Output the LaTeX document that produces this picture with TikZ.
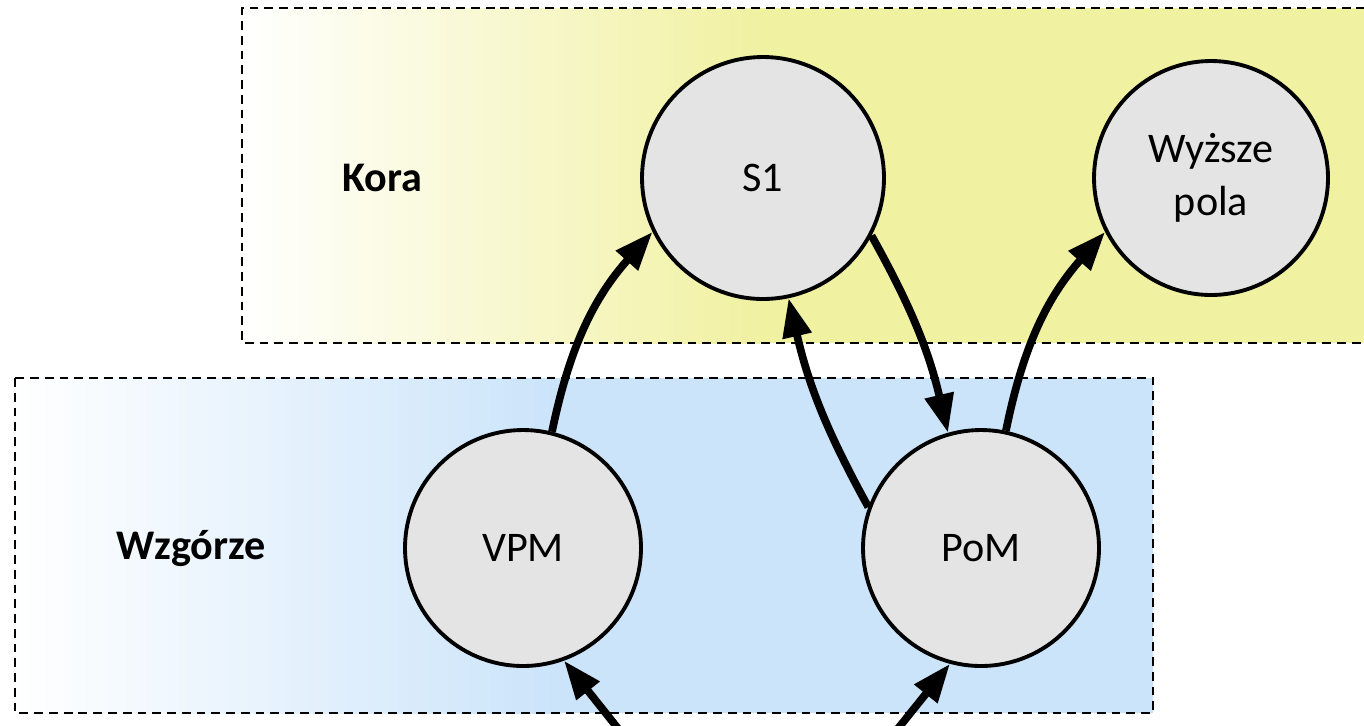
\documentclass[tikz,border=0pt]{standalone}
\usepackage{fontspec}
\setmainfont{Carlito}
\usetikzlibrary{arrows.meta}
\definecolor{korafill}{RGB}{241,241,162}
\definecolor{wzgfill}{RGB}{203,228,250}
\definecolor{cellfill}{RGB}{228,228,228}
\tikzset{
	zone/.style={draw,line width=1.1pt,dash pattern=on 5pt off 3.4pt},
	cell/.style={draw,circle,fill=cellfill,line width=2.2pt,inner sep=0pt,align=center,minimum size=4.72cm},
	lbl/.style={font=\fontsize{24}{28}\selectfont\bfseries},
	tract/.style={-{Triangle[length=22pt,width=16pt]},line width=4.4pt}
}
\begin{document}
\begin{tikzpicture}[x=0.02cm,y=-0.02cm,font=\fontsize{24}{28}\selectfont]
            \useasboundingbox (0,0) rectangle (1364,725);
            \clip (0,0) rectangle (1364,725);
            % Kora
            \shade[left color=white,right color=korafill] (242,8) rectangle (760,343);
            \fill[korafill] (759,8) rectangle (1380,343);
            \draw[zone] (1380,8) -- (242,8) -- (242,343) -- (1380,343);
            % Wzgorze
            \shade[left color=white,right color=wzgfill] (15,378) rectangle (560,713);
            \fill[wzgfill] (559,378) rectangle (1153,713);
            \draw[zone] (15,378) rectangle (1153,713);
            \node[lbl] (kora) at (382,178) {Kora};
            \node[lbl] (wzg) at (191,548) {Wzgórze};
            \node[cell,minimum size=4.84cm] (s1) at (763,178) {S1};
            \node[cell,minimum size=4.68cm,font=\fontsize{24}{30}\selectfont] (wp) at (1211,178) {Wyższe\\pola};
            \node[cell] (vpm) at (523,548) {VPM};
            \node[cell] (pom) at (981,548) {PoM};
            \coordinate (lo1) at (655,775);
            \coordinate (lo2) at (855,782);
            \draw[tract] (vpm.76) to[bend left=15] (s1.206);
            \draw[tract] (s1.332) to[bend left=8] (pom.106);
            \draw[tract] (pom.160) to[bend left=8] (s1.282);
            \draw[tract] (pom.78) to[bend left=15] (wp.207);
            \draw[tract] (lo1) -- (vpm.290);
            \draw[tract] (lo2) -- (pom.255);
        \end{tikzpicture}
\end{document}
